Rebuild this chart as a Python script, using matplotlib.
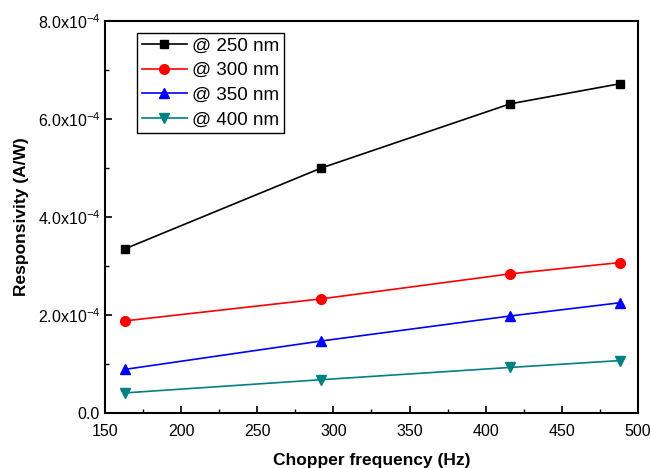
import matplotlib
matplotlib.use('Agg')
import matplotlib.pyplot as plt
from matplotlib.ticker import MultipleLocator, FixedLocator

plt.rcParams['font.family'] = ['Liberation Sans', 'DejaVu Sans']
plt.rcParams['mathtext.fontset'] = 'custom'
plt.rcParams['mathtext.rm'] = 'Liberation Sans'
plt.rcParams['mathtext.it'] = 'Liberation Sans:italic'
plt.rcParams['mathtext.bf'] = 'Liberation Sans:bold'

freq = [163, 292, 416, 488]
r250 = [3.35e-4, 5.00e-4, 6.31e-4, 6.72e-4]
r300 = [1.88e-4, 2.33e-4, 2.84e-4, 3.07e-4]
r350 = [0.89e-4, 1.47e-4, 1.98e-4, 2.25e-4]
r400 = [0.41e-4, 0.68e-4, 0.93e-4, 1.07e-4]

series = [
    (r250, '@ 250 nm', 'black', 's', 6),
    (r300, '@ 300 nm', 'red', 'o', 7),
    (r350, '@ 350 nm', 'blue', '^', 7.5),
    (r400, '@ 400 nm', '#008080', 'v', 7.5),
]

yticks = [0, 2e-4, 4e-4, 6e-4, 8e-4]
ylabels = ['0.0', r'2.0x10$^{-4}$', r'4.0x10$^{-4}$', r'6.0x10$^{-4}$', r'8.0x10$^{-4}$']

fig = plt.figure(figsize=(6.5, 4.68), dpi=100)
ax = fig.add_axes([0.1615, 0.1175, 0.82, 0.8375])

for vals, lab, col, mk, ms in series:
    ax.plot(freq, vals, color=col, marker=mk, markersize=ms, linewidth=1.2, label=lab)

ax.set_xlim(150, 500)
ax.set_ylim(0, 8e-4)
ax.xaxis.set_major_locator(MultipleLocator(50))
ax.xaxis.set_minor_locator(MultipleLocator(25))
ax.yaxis.set_major_locator(FixedLocator(yticks))
ax.set_yticklabels(ylabels)
ax.yaxis.set_minor_locator(MultipleLocator(1e-4))

ax.tick_params(which='both', direction='in', top=False, right=False, labelsize=11.5)
ax.tick_params(which='major', length=5, width=1.2)
ax.tick_params(which='minor', length=3, width=1.0)
ax.tick_params(axis='x', which='major', pad=8)
for s in ax.spines.values():
    s.set_linewidth(1.5)

ax.set_xlabel('Chopper frequency (Hz)', fontsize=12.5, fontweight='bold', labelpad=10)
ax.set_ylabel('Responsivity (A/W)', fontsize=12.5, fontweight='bold', labelpad=6)

leg = ax.legend(loc='upper left', bbox_to_anchor=(0.06, 0.97), fontsize=13.5,
                fancybox=False, framealpha=1, edgecolor='black',
                handlelength=2.4, handletextpad=0.3, borderpad=0.25, labelspacing=0.4,
                borderaxespad=0)
leg.get_frame().set_linewidth(1.0)

fig.savefig('out.png', dpi=100)
